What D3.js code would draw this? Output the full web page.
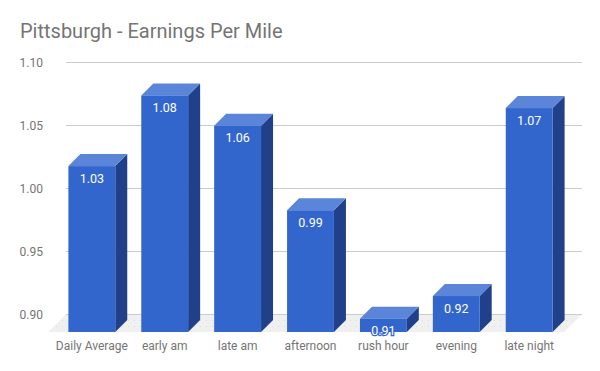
<!DOCTYPE html>
<html><head><meta charset="utf-8">
<script src="https://cdn.jsdelivr.net/npm/d3@7"></script>
<style>body{margin:0;background:#fff}svg{display:block}</style>
</head><body>
<script>
const categories = ["Daily Average","early am","late am","afternoon","rush hour","evening","late night"];
const values = [1.027, 1.083, 1.059, 0.992, 0.906, 0.924, 1.073];
const yTicks = [0.90, 0.95, 1.00, 1.05, 1.10];
const title = "Pittsburgh - Earnings Per Mile";

const W = 600, H = 371;
const depth = 12, floorDepth = 18;
const floorFront = 332;
const svg = d3.select("body").append("svg").attr("width", W).attr("height", H)
  .style("font-family", "Roboto, sans-serif");

const y = d3.scaleLinear().domain([0.9, 1.1]).range([314.3, 62]);
const x = d3.scaleBand().domain(categories).range([56, 565]).paddingInner(0.357).paddingOuter(0.17);
const gridX0 = 66, gridX1 = 582;

// pattern for floor
const defs = svg.append("defs");
const pat = defs.append("pattern").attr("id","dots").attr("width",6).attr("height",6).attr("patternUnits","userSpaceOnUse");
pat.append("rect").attr("width",6).attr("height",6).attr("fill","#f0f0f0");
pat.append("rect").attr("x",2).attr("y",2).attr("width",1).attr("height",1).attr("fill","#dcdcdc");

// title
svg.append("text").attr("x", 20).attr("y", 38).attr("font-size", 20).attr("fill", "#757575").text(title);

// gridlines
svg.append("g").selectAll("line").data(yTicks).join("line")
  .attr("x1", gridX0).attr("x2", gridX1)
  .attr("y1", d => Math.round(y(d)) + 0.5).attr("y2", d => Math.round(y(d)) + 0.5)
  .attr("stroke", "#cccccc").attr("stroke-width", 1);

// floor
const yb = y(0.9);
svg.append("path")
  .attr("d", `M${gridX0},${yb}L${gridX1},${yb}L${gridX1 - floorDepth},${floorFront}L${gridX0 - floorDepth},${floorFront}Z`)
  .attr("fill", "url(#dots)");
svg.append("line").attr("x1", gridX0).attr("x2", gridX1).attr("y1", Math.round(yb)+0.5).attr("y2", Math.round(yb)+0.5)
  .attr("stroke", "#cccccc");

// y tick labels
svg.append("g").selectAll("text").data(yTicks).join("text")
  .attr("x", 43).attr("y", d => y(d) + 4.5).attr("text-anchor", "end")
  .attr("font-size", 12).attr("fill", "#757575")
  .text(d => d3.format(".2f")(d));

// bars
const bars = svg.append("g").selectAll("g").data(categories.map((c, i) => ({c, v: values[i]}))).join("g");
const bw = x.bandwidth();
bars.append("path").attr("fill", "#20418a")
  .attr("d", d => { const x0 = x(d.c) + bw, t = y(d.v);
    return `M${x0},${t + depth}L${x0 + depth},${t}L${x0 + depth},${floorFront - depth}L${x0},${floorFront}Z`; });
bars.append("path").attr("fill", "#5b85d8")
  .attr("d", d => { const x0 = x(d.c), t = y(d.v);
    return `M${x0},${t + depth}L${x0 + depth},${t}L${x0 + bw + depth},${t}L${x0 + bw},${t + depth}Z`; });
bars.append("rect").attr("fill", "#3366cc")
  .attr("x", d => x(d.c)).attr("y", d => y(d.v) + depth)
  .attr("width", bw).attr("height", d => floorFront - y(d.v) - depth);

// value labels
bars.append("text")
  .attr("x", d => x(d.c) + bw / 2).attr("y", d => y(d.v) + depth + 16.5)
  .attr("text-anchor", "middle").attr("font-size", 12.5).attr("fill", "#ffffff")
  .attr("stroke", "#3366cc").attr("stroke-width", 2.5).attr("paint-order", "stroke")
  .text(d => d3.format(".2f")(d.v));

// category labels
svg.append("g").selectAll("text").data(categories).join("text")
  .attr("x", d => x(d) + bw / 2).attr("y", 349.5).attr("text-anchor", "middle")
  .attr("font-size", 12).attr("fill", "#757575").text(d => d);
</script>
</body></html>
